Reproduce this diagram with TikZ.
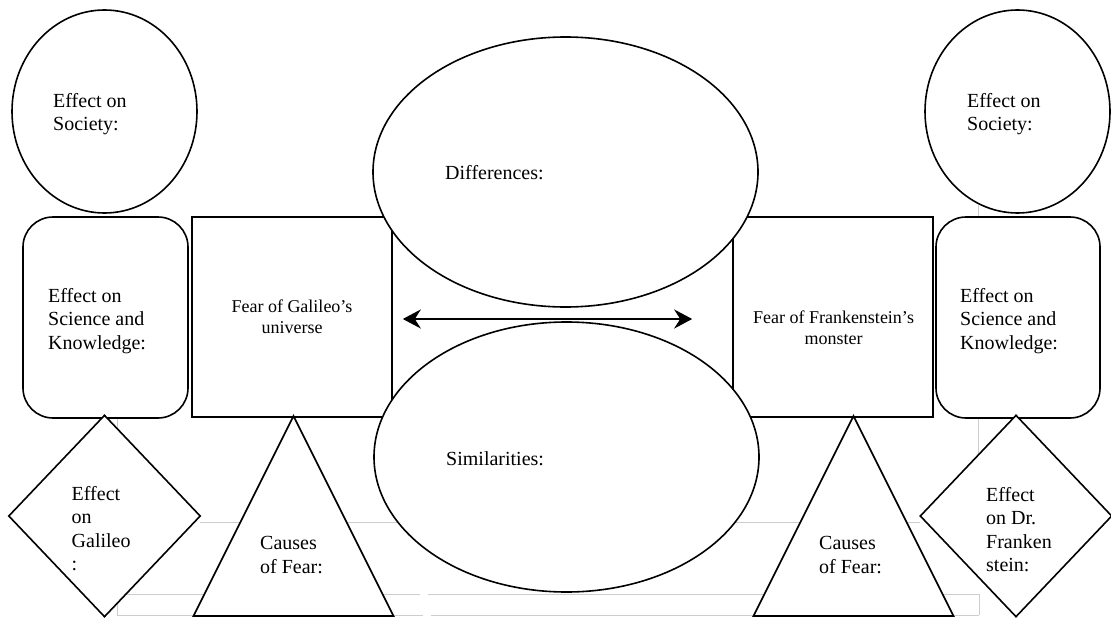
\documentclass[tikz,border=0pt]{standalone}
\usepackage{fontspec}
\setmainfont{Liberation Serif}
\usetikzlibrary{arrows.meta,shapes.geometric}
\definecolor{tablegray}{RGB}{205,205,205}
\tikzset{
  outline/.style={draw=black,line width=1.6pt,fill=white},
  bubble/.style={outline,ellipse,inner sep=0pt},
  roundbox/.style={outline,rectangle,rounded corners=30pt,inner sep=0pt,
                   minimum width=165pt,minimum height=201pt},
  fearbox/.style={outline,rectangle,inner sep=0pt,minimum width=200pt,minimum height=200pt},
  kite/.style={outline,diamond,inner sep=0pt,minimum width=192pt,minimum height=202pt},
  peak/.style={outline,line join=miter},
  tableline/.style={tablegray,line width=1pt},
  twoway/.style={{Stealth[length=18pt,width=19pt,inset=6pt]}-{Stealth[length=18pt,width=19pt,inset=6pt]},
                 line width=2.6pt},
  lab/.style={font=\fontsize{20}{23.5}\selectfont,align=left,inner sep=0pt,anchor=north west},
  fearlab/.style={font=\fontsize{18}{21.5}\selectfont,align=center,inner sep=0pt,anchor=north},
}

\begin{document}
\begin{tikzpicture}[x=1pt,y=-1pt]
  \path[use as bounding box] (0,0) rectangle (1111,618);

  % faint table rules behind the organizer
  \draw[tableline] (117,417) -- (117,615);
  \draw[tableline] (200,522) -- (920,522);
  \draw[tableline] (978,205) -- (978,522);
  \draw[tableline] (117,594) -- (420,594) (428,594) -- (979,594);
  \draw[tableline] (117,615) -- (423,615) (431,615) -- (979,615);
  \draw[tableline] (979,594) -- (979,615);

  \node[bubble,minimum width=185pt,minimum height=203pt] (socL) at (104.5,111.5) {};
  \node[bubble,minimum width=185pt,minimum height=203pt] (socR) at (1017.5,111.5) {};
  \node[roundbox] (sciL) at (105.5,317.5) {};
  \node[roundbox,minimum width=164pt] (sciR) at (1018,317.5) {};
  \node[fearbox] (galfear) at (292,317) {};
  \node[fearbox] (frfear) at (833,317) {};
  \node[kite] (galeff) at (104.5,516) {};
  \node[kite] (freff) at (1016,516) {};

  \coordinate (galtop) at (293.5,416);
  \coordinate (frtop) at (853.5,416);
  \draw[peak] (galtop) -- ++(-100,200) -- ++(200,0) -- cycle;
  \draw[peak] (frtop) -- ++(-100,200) -- ++(200,0) -- cycle;

  \node[bubble,minimum width=385pt,minimum height=270pt] (diff) at (565.5,172) {};
  \node[bubble,minimum width=385pt,minimum height=270pt] (sim) at (566.5,457) {};

  \draw[twoway,shorten <=10pt,shorten >=40pt] ([yshift=-2pt]galfear.east) -- ([yshift=-2pt]frfear.west);

  \node[lab] (socLt) at (53,93) {Effect on\\Society:};
  \node[lab] (socRt) at (967,93) {Effect on\\Society:};
  \node[lab] (sciLt) at (48,288) {Effect on\\Science and\\Knowledge:};
  \node[lab] (sciRt) at (960,288) {Effect on\\Science and\\Knowledge:};
  \node[fearlab] (galfeart) at (292,299.5) {Fear of Galileo’s\\universe};
  \node[fearlab] (frfeart) at (833.5,310.5) {Fear of Frankenstein’s\\monster};
  \node[lab,anchor=base west] (difft) at (445,179) {Differences:};
  \node[lab,anchor=base west] (simt) at (446,465) {Similarities:};
  \node[lab] (galefft) at (71.5,486) {Effect\\on\\Galileo\\:};
  \node[lab] (frefft) at (986,487) {Effect\\on Dr.\\Franken\\stein:};
  \node[lab] (galcause) at (260,536.5) {Causes\\of Fear:};
  \node[lab] (frcause) at (819,536.5) {Causes\\of Fear:};
\end{tikzpicture}
\end{document}
